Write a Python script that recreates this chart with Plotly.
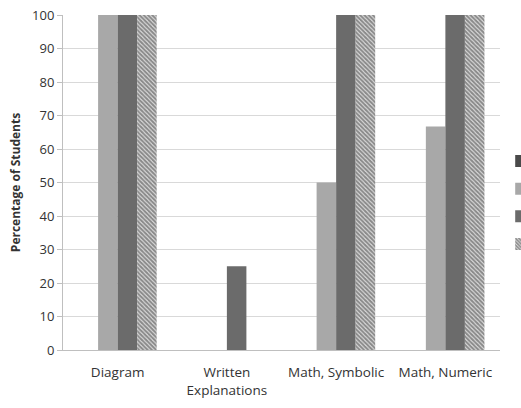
import plotly.graph_objects as go

categories = ["Diagram", "Written<br>Explanations", "Math, Symbolic", "Math, Numeric"]
series_names = ["", " ", "  ", "   "]  # legend labels are cut off in the reference
s1 = [0, 0, 0, 0]
s2 = [100, 0, 50, 66.7]
s3 = [100, 25, 100, 100]
s4 = [100, 0, 100, 100]
y_ticks = [0, 10, 20, 30, 40, 50, 60, 70, 80, 90, 100]

fig = go.Figure()
fig.add_trace(go.Bar(name=series_names[0], x=categories, y=s1, marker=dict(color="#4a4a4a", line=dict(width=0))))
fig.add_trace(go.Bar(name=series_names[1], x=categories, y=s2, marker=dict(color="#a8a8a8", line=dict(width=0))))
fig.add_trace(go.Bar(name=series_names[2], x=categories, y=s3, marker=dict(color="#6b6b6b", line=dict(width=0))))
fig.add_trace(go.Bar(name=series_names[3], x=categories, y=s4,
                     marker=dict(color="#ffffff", line=dict(width=0),
                                 pattern=dict(shape="\\", fgcolor="#333333", bgcolor="#e0e0e0", size=3, solidity=0.65))))

fig.update_layout(
    width=521, height=408,
    margin=dict(l=63, r=21, t=15, b=58, autoexpand=False),
    barmode="group", bargap=0.285, bargroupgap=0,
    plot_bgcolor="white", paper_bgcolor="white",
    font=dict(family="Open Sans, Liberation Sans, sans-serif", size=12, color="#333333"),
    showlegend=True,
    legend=dict(xref="container", x=0.962, xanchor="left", y=0.44, yanchor="middle",
                font=dict(size=19), tracegroupgap=0, bgcolor="rgba(0,0,0,0)"),
)
fig.update_yaxes(range=[0, 100], tickvals=y_ticks, showgrid=True, gridcolor="#d9d9d9", gridwidth=1,
                 showline=True, linecolor="#bfbfbf", ticks="outside", ticklen=5, tickcolor="#bfbfbf",
                 tickfont=dict(size=13, color="#333333"), zeroline=False,
                 title=dict(text="<b>Percentage of Students</b>", font=dict(size=12, color="#333333"), standoff=8))
fig.update_xaxes(showline=True, linecolor="#bfbfbf", ticks="", tickangle=0, ticklabelstandoff=10,
                 tickfont=dict(size=13.5, color="#333333"))

fig.write_html("out.html")
